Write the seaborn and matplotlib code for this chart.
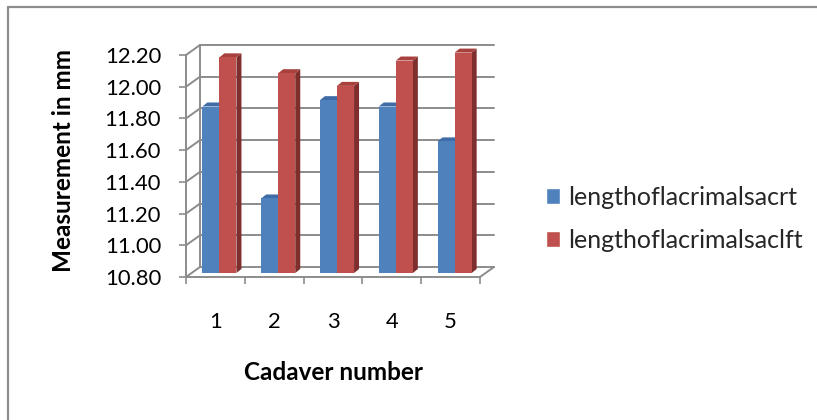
import numpy as np
import pandas as pd
import matplotlib
matplotlib.use("Agg")
import matplotlib.pyplot as plt
import matplotlib.transforms as mtrans
from matplotlib.patches import Polygon
from matplotlib.lines import Line2D
from matplotlib.ticker import FixedLocator
import seaborn as sns

# ---- data ----
cadavers = ["1", "2", "3", "4", "5"]
series_names = ["lengthoflacrimalsacrt", "lengthoflacrimalsaclft"]
right_side = [11.85, 11.27, 11.89, 11.85, 11.63]
left_side = [12.16, 12.06, 11.98, 12.14, 12.19]
y_ticks = [10.80, 11.00, 11.20, 11.40, 11.60, 11.80, 12.00, 12.20]
x_title = "Cadaver number"
y_title = "Measurement in mm"

front_cols = ["#4F81BD", "#C0504D"]
side_cols = ["#36598A", "#7E2E2C"]
top_cols = ["#3F6CA6", "#A8413E"]
grid_col = "#8C8C8C"

df = pd.DataFrame({
    "Cadaver": cadavers * 2,
    "Value": right_side + left_side,
    "Series": [series_names[0]] * len(cadavers) + [series_names[1]] * len(cadavers),
})

sns.set_theme(style="white")
plt.rcParams["font.family"] = ["Lato", "DejaVu Sans"]

DPI = 100
fig = plt.figure(figsize=(8.17, 4.20), dpi=DPI)
ax = fig.add_axes([186 / 817, 1 - 277 / 420, 294 / 817, 222 / 420])

sns.barplot(data=df, x="Cadaver", y="Value", hue="Series", palette=front_cols,
            width=0.58, saturation=1, ax=ax, legend=True, errorbar=None)

ymin, ymax = y_ticks[0], y_ticks[-1]
ax.set_xlim(-0.5, len(cadavers) - 0.5)
ax.set_ylim(ymin, ymax)

# pseudo-3D geometry (pixels)
bar_dx, bar_dy = 4, -4      # bar sits a bit behind the front plane
dep_dx, dep_dy = 5, -4      # bar depth
wall_dx, wall_dy = 14, -10  # back wall offset

def px(x, y):
    return ax.transData.transform((x, y))

ident = mtrans.IdentityTransform()

# back wall grid lines and left wall diagonals
x0, x1 = ax.get_xlim()
for v in y_ticks:
    a = px(x0, v)
    b = px(x1, v)
    fig.add_artist(Line2D([a[0] + wall_dx, b[0] + wall_dx], [a[1] - wall_dy, b[1] - wall_dy],
                          color=grid_col, lw=1.4, transform=ident, zorder=1))
    fig.add_artist(Line2D([a[0], a[0] + wall_dx], [a[1], a[1] - wall_dy],
                          color=grid_col, lw=1.4, transform=ident, zorder=1))
# back-left vertical edge
a = px(x0, ymin); b = px(x0, ymax)
fig.add_artist(Line2D([a[0] + wall_dx, b[0] + wall_dx], [a[1] - wall_dy, b[1] - wall_dy],
                      color=grid_col, lw=1.4, transform=ident, zorder=1))
# floor right diagonal
a = px(x1, ymin)
fig.add_artist(Line2D([a[0], a[0] + wall_dx], [a[1], a[1] - wall_dy],
                      color=grid_col, lw=1.4, transform=ident, zorder=1))

# convert bars into 3D-looking columns
ax.figure.canvas.draw()
for i, patch in enumerate(list(ax.patches)):
    h = patch.get_height()
    if h == 0 or np.isnan(h):
        continue
    s = 0 if i < len(cadavers) else 1
    bx, bw = patch.get_x(), patch.get_width()
    top = patch.get_y() + h
    patch.set_visible(False)
    p00 = px(bx, ymin); p10 = px(bx + bw, ymin)
    p01 = px(bx, top); p11 = px(bx + bw, top)
    off = np.array([bar_dx, -bar_dy])
    dep = np.array([dep_dx, -dep_dy])
    front = [p00 + off, p10 + off, p11 + off, p01 + off]
    side = [p10 + off, p10 + off + dep, p11 + off + dep, p11 + off]
    topf = [p01 + off, p11 + off, p11 + off + dep, p01 + off + dep]
    for verts, col, z in ((side, side_cols[s], 2), (topf, top_cols[s], 2), (front, front_cols[s], 3)):
        fig.add_artist(Polygon(verts, closed=True, facecolor=col, edgecolor="none",
                               transform=ident, zorder=z))

# axes styling
for sp in ("top", "right"):
    ax.spines[sp].set_visible(False)
for sp in ("left", "bottom"):
    ax.spines[sp].set_color(grid_col)
    ax.spines[sp].set_linewidth(1.4)
ax.set_facecolor("none")
ax.set_yticks(y_ticks)
ax.set_yticklabels([f"{v:.2f}" for v in y_ticks])
ax.xaxis.set_minor_locator(FixedLocator(np.arange(-0.5, len(cadavers), 1.0)))
ax.tick_params(axis="y", which="major", left=True, length=5, width=1.2, color=grid_col,
               pad=13, labelsize=15.8, labelcolor="black")
ax.tick_params(axis="x", which="major", bottom=False, length=0, pad=25, labelsize=15.8,
               labelcolor="black")
ax.tick_params(axis="x", which="minor", bottom=True, length=5, width=1.2, color=grid_col)
ax.set_xlabel("")
ax.set_ylabel("")

# titles
fig.text(64 / 817, 1 - 160 / 420, y_title, rotation=90, ha="center", va="center",
         fontsize=17.5, fontweight="bold", color="black")
fig.text(333 / 817, 1 - 373 / 420, x_title, ha="center", va="center",
         fontsize=17.5, fontweight="bold", color="black")

# legend
handles, labels = ax.get_legend_handles_labels()
ax.legend(handles, labels, loc="center left", bbox_to_anchor=(546 / 817, 1 - 219 / 420),
          bbox_transform=fig.transFigure, frameon=False, fontsize=18,
          handlelength=0.57, handleheight=0.57, handletextpad=0.33, labelspacing=0.8,
          borderpad=0, borderaxespad=0)

# chart border
fig.add_artist(Line2D([8 / 817, 8 / 817], [0, 1 - 7 / 420], color=grid_col, lw=1.6,
                      transform=fig.transFigure))
fig.add_artist(Line2D([8 / 817, 1], [1 - 7 / 420, 1 - 7 / 420], color=grid_col, lw=1.6,
                      transform=fig.transFigure))

fig.savefig("out.png", dpi=DPI)
